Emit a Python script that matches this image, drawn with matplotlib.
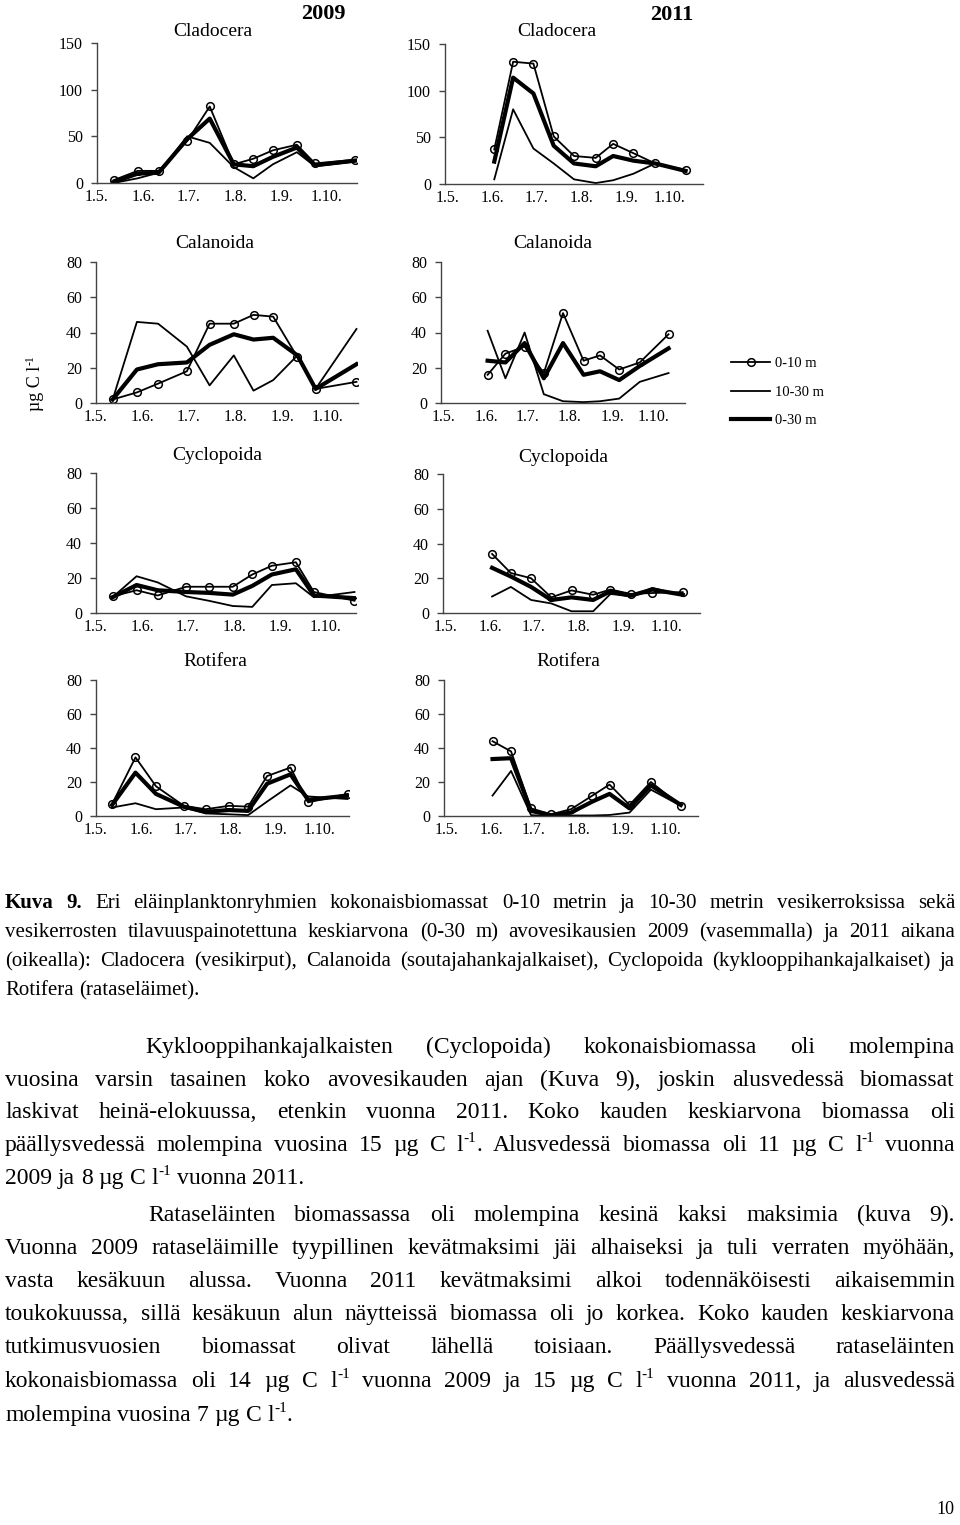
import re
import matplotlib
matplotlib.use("Agg")
import matplotlib.pyplot as plt
import pandas as pd

plt.rcParams['font.family'] = ['Liberation Serif', 'DejaVu Serif']

# sampling dates
dates_2009 = ["2009-05-12", "2009-05-28", "2009-06-11", "2009-06-30", "2009-07-15", "2009-07-31",
              "2009-08-13", "2009-08-26", "2009-09-11", "2009-09-23", "2009-10-20"]
dates_2011 = ["2011-06-02", "2011-06-15", "2011-06-29", "2011-07-13", "2011-07-27",
              "2011-08-11", "2011-08-23", "2011-09-06", "2011-09-21", "2011-10-12"]
month_starts = ["2009-05-01", "2009-06-01", "2009-07-01", "2009-08-01", "2009-09-01", "2009-10-01"]
month_labels = ["1.5.", "1.6.", "1.7.", "1.8.", "1.9.", "1.10."]

# biomass, ug C / l   (0-10 m, 10-30 m, 0-30 m)
clad_2009_010 = [3, 13, 13, 45, 82, 20, 26, 35, 41, 21, 25]
clad_2009_1030 = [0, 5, 11, 50, 43, 17, 5, 20, 33, 18, 23]
clad_2009_030 = [1, 10, 11, 47, 69, 20, 18, 28, 38, 19, 24]
clad_2011_010 = [37, 131, 129, 51, 30, 28, 43, 33, 22, 15]
clad_2011_1030 = [5, 80, 38, 22, 5, 1, 4, 11, 22, 14]
clad_2011_030 = [24, 114, 97, 41, 22, 19, 30, 25, 22, 14]

cala_2009_010 = [2, 6, 11, 18, 45, 45, 50, 49, 26, 8, 12]
cala_2009_1030 = [2, 46, 45, 32, 10, 27, 7, 13, 27, 8, 42]
cala_2009_030 = [2, 19, 22, 23, 33, 39, 36, 37, 27, 8, 22]
cala_2011_010 = [16, 28, 32, 17, 51, 24, 27, 19, 23, 39]
cala_2011_1030 = [41, 14, 40, 5, 1, 0.5, 1, 2.5, 12, 17]
cala_2011_030 = [24, 23, 34, 14, 34, 16, 18, 13, 21, 31]

cycl_2009_010 = [9.5, 13, 10, 15, 15, 15, 22, 27, 29, 12, 7]
cycl_2009_1030 = [9, 21, 17.5, 9.5, 7, 4, 3.5, 16, 17, 9, 12]
cycl_2009_030 = [9, 16, 13, 12, 11.5, 10.5, 15.5, 22, 25, 10, 8.5]
cycl_2011_010 = [34, 23, 20, 9, 13, 10.5, 13.5, 11, 11.5, 12]
cycl_2011_1030 = [9.5, 15, 7.5, 5.5, 1, 1, 11, 9.5, 14.5, 10]
cycl_2011_030 = [26, 21, 15, 7.5, 9, 7.5, 12.5, 10, 13.5, 10.5]

roti_2009_010 = [7, 34.5, 17.5, 6, 4, 6, 5.5, 23.5, 28.5, 8, 13]
roti_2009_1030 = [5, 7.5, 4, 5, 1.5, 1, 0.5, 8.5, 18, 11.5, 10]
roti_2009_030 = [6.5, 25.5, 13, 5.5, 2.5, 3.5, 3, 19, 24.5, 9.5, 12]
roti_2011_010 = [44, 38, 4.5, 1, 4, 12, 18.5, 6.5, 20, 6]
roti_2011_1030 = [12, 26.5, 0.5, 0, 0.3, 0.3, 0.6, 2, 15.5, 6]
roti_2011_030 = [33.5, 34, 3, 0.5, 2, 8.5, 13, 4.5, 18, 6.5]

series_labels = ["0-10 m", "10-30 m", "0-30 m"]

W, H = 960, 1525
fig = plt.figure(figsize=(9.6, 15.25), dpi=100)
renderer = fig.canvas.get_renderer()


def fx(x):
    return x / W


def fy(y):
    return 1 - y / H


day09 = pd.to_datetime(dates_2009).dayofyear
day11 = pd.to_datetime(dates_2011).dayofyear
ticks = pd.to_datetime(month_starts).dayofyear

# (x0, x1, y of top value, y of zero) in pixels, data, ymax, xlim, title, title pos
panels = [
    ((97, 357, 43, 183), day09, (clad_2009_010, clad_2009_1030, clad_2009_030), 150, (121.5, 294), "Cladocera", (213, 31)),
    ((96, 358, 262, 403), day09, (cala_2009_010, cala_2009_1030, cala_2009_030), 80, (121.5, 294), "Calanoida", (215, 244)),
    ((96, 356, 473, 613), day09, (cycl_2009_010, cycl_2009_1030, cycl_2009_030), 80, (121.5, 294), "Cyclopoida", (217, 456)),
    ((96, 349, 680, 816), day09, (roti_2009_010, roti_2009_1030, roti_2009_030), 80, (121.5, 294), "Rotifera", (215, 662)),
    ((445, 703, 44, 184), day11, (clad_2011_010, clad_2011_1030, clad_2011_030), 150, (119, 297), "Cladocera", (557, 32)),
    ((441, 685, 262, 403), day11, (cala_2011_010, cala_2011_1030, cala_2011_030), 80, (119, 297), "Calanoida", (553, 244)),
    ((443, 700, 474, 613), day11, (cycl_2011_010, cycl_2011_1030, cycl_2011_030), 80, (119, 297), "Cyclopoida", (563, 457)),
    ((444, 698, 680, 816), day11, (roti_2011_010, roti_2011_1030, roti_2011_030), 80, (119, 297), "Rotifera", (568, 662)),
]

handles = None
for (x0, x1, yt, yb), days, (s010, s1030, s030), ymax, xlim, title, tpos in panels:
    ax = fig.add_axes([fx(x0), fy(yb), (x1 - x0) / W, (yb - yt) / H])
    h3, = ax.plot(days, s030, color='black', lw=3.0, solid_joinstyle='round')
    h2, = ax.plot(days, s1030, color='black', lw=1.3)
    h1, = ax.plot(days, s010, color='black', lw=1.3, marker='o', ms=5.5,
                  mfc='none', mec='black', mew=1.1)
    handles = [h1, h2, h3]
    ax.set_xlim(*xlim)
    ax.set_ylim(0, ymax)
    ax.set_xticks(ticks)
    ax.set_xticklabels(month_labels)
    if ymax == 150:
        ax.set_yticks([0, 50, 100, 150])
    else:
        ax.set_yticks([0, 20, 40, 60, 80])
    for side in ['top', 'right']:
        ax.spines[side].set_visible(False)
    for side in ['left', 'bottom']:
        ax.spines[side].set_color('#444444')
        ax.spines[side].set_linewidth(1.0)
    ax.tick_params(axis='x', length=0, labelsize=11.5, pad=4)
    ax.tick_params(axis='y', length=4, width=1, color='#444444', direction='out',
                   labelsize=11.5, pad=6)
    ax.patch.set_alpha(0)
    fig.text(fx(tpos[0]), fy(tpos[1]), title, fontsize=14, ha='center', va='center')

fig.text(fx(323), fy(14), "2009", fontsize=16, fontweight='bold', ha='center', va='center')
fig.text(fx(672), fy(15), "2011", fontsize=16, fontweight='bold', ha='center', va='center')

# y label, rotated, with raised "-1"
ylab = fig.text(fx(40), fy(411), "µg C l", fontsize=13, rotation=90, rotation_mode='anchor',
                ha='left', va='baseline')
ylab_len = ylab.get_window_extent(renderer).height
fig.text(fx(40 - 0.38 * 13 * 100 / 72), fy(411 - ylab_len - 1), "-1", fontsize=8.5, rotation=90,
         rotation_mode='anchor', ha='left', va='baseline')

fig.legend(handles, series_labels, loc='upper left', bbox_to_anchor=(fx(731), fy(357)),
           frameon=False, fontsize=10.5, handlelength=2.7, handletextpad=0.3,
           labelspacing=1.05, borderpad=0, borderaxespad=0)

# ---- text of the page ----
caption = [
    "**Kuva **9. Eri eläinplanktonryhmien kokonaisbiomassat 0-10 metrin ja 10-30 metrin vesikerroksissa sekä",
    "vesikerrosten tilavuuspainotettuna keskiarvona (0-30 m) avovesikausien 2009 (vasemmalla) ja 2011 aikana",
    "(oikealla): Cladocera (vesikirput), Calanoida (soutajahankajalkaiset), Cyclopoida (kyklooppihankajalkaiset) ja",
    "Rotifera (rataseläimet).",
]
para1 = [
    "Kyklooppihankajalkaisten (Cyclopoida) kokonaisbiomassa oli molempina",
    "vuosina varsin tasainen koko avovesikauden ajan (Kuva 9), joskin alusvedessä biomassat",
    "laskivat heinä-elokuussa, etenkin vuonna 2011. Koko kauden keskiarvona biomassa oli",
    "päällysvedessä molempina vuosina 15 µg C l^{-1}. Alusvedessä biomassa oli 11 µg C l^{-1} vuonna",
    "2009 ja 8 µg C l^{-1} vuonna 2011.",
]
para2 = [
    "Rataseläinten biomassassa oli molempina kesinä kaksi maksimia (kuva 9).",
    "Vuonna 2009 rataseläimille tyypillinen kevätmaksimi jäi alhaiseksi ja tuli verraten myöhään,",
    "vasta kesäkuun alussa. Vuonna 2011 kevätmaksimi alkoi todennäköisesti aikaisemmin",
    "toukokuussa, sillä kesäkuun alun näytteissä biomassa oli jo korkea. Koko kauden keskiarvona",
    "tutkimusvuosien biomassat olivat lähellä toisiaan. Päällysvedessä rataseläinten",
    "kokonaisbiomassa oli 14 µg C l^{-1} vuonna 2009 ja 15 µg C l^{-1} vuonna 2011, ja alusvedessä",
    "molempina vuosina 7 µg C l^{-1}.",
]

X_LEFT, X_RIGHT = 5, 955


def make_words(line, size):
    # every word -> list of (text artist, dx, dy) and its width in px
    size_px = size * 100 / 72
    out = []
    for w in line.split(' '):
        bold = w.startswith('**')
        s = w[2:] if bold else w
        parts = re.split(r'\^\{([^}]*)\}', s)
        segs = []
        x = 0.0
        for k, p in enumerate(parts):
            if not p:
                continue
            sup = k % 2 == 1
            t = fig.text(0, 0, p, fontsize=size * 0.65 if sup else size,
                         fontweight='bold' if bold else 'normal', va='baseline', ha='left')
            wd = t.get_window_extent(renderer).width
            segs.append((t, x, 0.38 * size_px if sup else 0.0))
            x += wd
        out.append((segs, x))
    return out


def fit_size(lines, indents, trial=12.0, cap=16.0):
    best = cap
    for line, ind in zip(lines, indents):
        words = make_words(line, trial)
        nat = sum(w for _, w in words) + (len(words) - 1) * 0.25 * trial * 100 / 72
        for segs, _ in words:
            for t, _, _ in segs:
                t.remove()
        best = min(best, trial * (X_RIGHT - X_LEFT - ind) / nat * 0.985)
    return best


def draw_block(lines, baselines, indents, justify, size):
    space = 0.25 * size * 100 / 72
    for line, yb, ind, jus in zip(lines, baselines, indents, justify):
        words = make_words(line, size)
        total = sum(w for _, w in words)
        x_start = X_LEFT + ind
        if jus and len(words) > 1:
            gap = (X_RIGHT - x_start - total) / (len(words) - 1)
        else:
            gap = space
        x = x_start
        for segs, w in words:
            for t, dx, dy in segs:
                t.set_position((fx(x + dx), fy(yb - dy)))
            x += w + gap


cap_ind = [0, 0, 0, 0]
cap_jus = [True, True, True, False]
cap_size = fit_size(caption, cap_ind, cap=15.0)
draw_block(caption, [908, 937, 966, 995], cap_ind, cap_jus, cap_size)

body = para1 + para2
body_ind = [140, 0, 0, 0, 0, 143, 0, 0, 0, 0, 0, 0]
body_jus = [True, True, True, True, False, True, True, True, True, True, True, False]
body_size = fit_size(body, body_ind, cap=17.0)
draw_block(body, [1053, 1086, 1118, 1151, 1184, 1221, 1254, 1287, 1320, 1353, 1387, 1421],
           body_ind, body_jus, body_size)

fig.text(fx(945), fy(1509), "10", fontsize=13, ha='center', va='center')

fig.savefig("out.png", dpi=100)
